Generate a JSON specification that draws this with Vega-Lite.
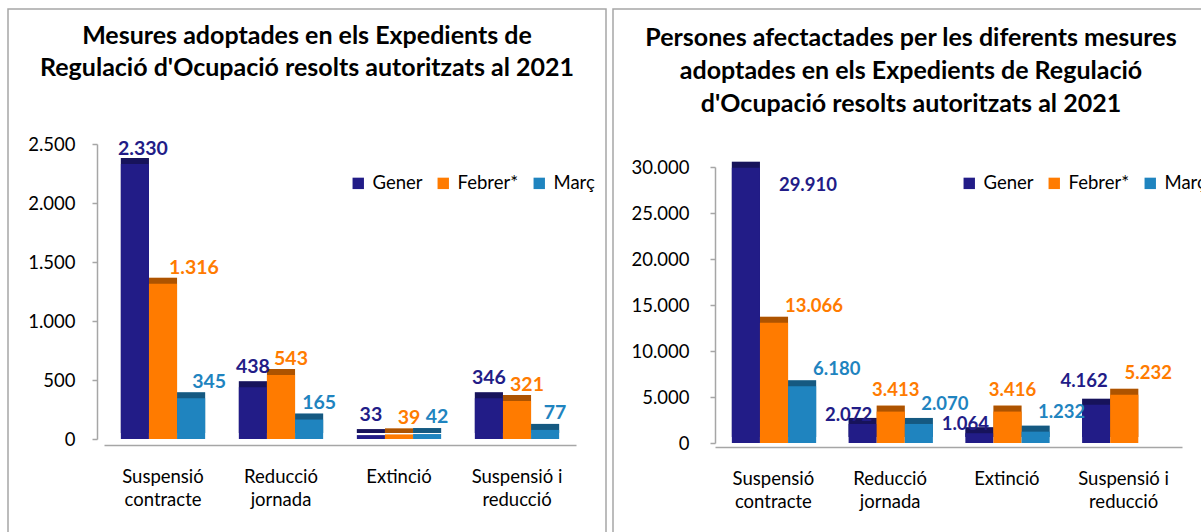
{
  "$schema": "https://vega.github.io/schema/vega-lite/v6.json",
  "padding": {"left": 7, "top": 8, "right": 0, "bottom": 0},
  "spacing": 5,
  "background": "white",
  "resolve": {"scale": {"color": "independent"}, "legend": {"color": "independent"}},
  "config": {
    "locale": {"number": {"decimal": ",", "thousands": ".", "grouping": [3], "currency": ["", " €"]}},
    "font": "Lato",
    "axis": {"labelFont": "Lato", "labelFontSize": 18.5, "labelColor": "#000000", "domainColor": "#A6A6A6", "domainWidth": 1.5, "tickColor": "#A6A6A6", "tickWidth": 1.5, "grid": false, "title": null},
    "text": {"font": "Lato", "fontWeight": "bold", "baseline": "middle"}
  },
  "datasets": {
    "mesures": [
      {"cat": "Suspensió contracte", "serie": "Gener", "v": 2330},
      {"cat": "Suspensió contracte", "serie": "Febrer*", "v": 1316},
      {"cat": "Suspensió contracte", "serie": "Març", "v": 345},
      {"cat": "Reducció jornada", "serie": "Gener", "v": 438},
      {"cat": "Reducció jornada", "serie": "Febrer*", "v": 543},
      {"cat": "Reducció jornada", "serie": "Març", "v": 165},
      {"cat": "Extinció", "serie": "Gener", "v": 33},
      {"cat": "Extinció", "serie": "Febrer*", "v": 39},
      {"cat": "Extinció", "serie": "Març", "v": 42},
      {"cat": "Suspensió i reducció", "serie": "Gener", "v": 346},
      {"cat": "Suspensió i reducció", "serie": "Febrer*", "v": 321},
      {"cat": "Suspensió i reducció", "serie": "Març", "v": 77}
    ],
    "persones": [
      {"cat": "Suspensió contracte", "serie": "Gener", "v": 29910},
      {"cat": "Suspensió contracte", "serie": "Febrer*", "v": 13066},
      {"cat": "Suspensió contracte", "serie": "Març", "v": 6180},
      {"cat": "Reducció jornada", "serie": "Gener", "v": 2072},
      {"cat": "Reducció jornada", "serie": "Febrer*", "v": 3413},
      {"cat": "Reducció jornada", "serie": "Març", "v": 2070},
      {"cat": "Extinció", "serie": "Gener", "v": 1064},
      {"cat": "Extinció", "serie": "Febrer*", "v": 3416},
      {"cat": "Extinció", "serie": "Març", "v": 1232},
      {"cat": "Suspensió i reducció", "serie": "Gener", "v": 4162},
      {"cat": "Suspensió i reducció", "serie": "Febrer*", "v": 5232}
    ]
  },
  "hconcat": [
    {
      "width": 598,
      "height": 526,
      "view": {"stroke": "#A6A6A6", "strokeWidth": 1.5},
      "title": {"text": ["Mesures adoptades en els Expedients de", "Regulació d'Ocupació resolts autoritzats al 2021"], "anchor": "middle", "frame": "group", "font": "Lato", "fontSize": 25, "fontWeight": "bold", "color": "#000000", "lineHeight": 32, "baseline": "top", "offset": -72},
      "data": {"name": "mesures"},
      "encoding": {
        "x": {"field": "cat", "type": "nominal", "sort": ["Suspensió contracte", "Reducció jornada", "Extinció", "Suspensió i reducció"], "scale": {"range": [96, 568], "paddingInner": 0, "paddingOuter": 0},
          "axis": {"orient": "bottom", "offset": -90, "labelAngle": 0, "ticks": false, "labelPadding": 22, "labelBaseline": "top", "labelLineHeight": 23,
            "labelExpr": "datum.value == 'Suspensió i reducció' ? ['Suspensió i', 'reducció'] : split(datum.value, ' ')"}},
        "xOffset": {"field": "serie", "type": "nominal", "sort": ["Gener", "Febrer*", "Març"], "scale": {"paddingInner": 0, "paddingOuter": 0.6}},
        "y": {"field": "v", "type": "quantitative", "scale": {"domain": [0, 2500], "range": [430, 135], "nice": false},
          "axis": {"orient": "left", "offset": -89, "values": [0, 500, 1000, 1500, 2000, 2500], "format": ",d", "tickSize": 5, "labelPadding": 17}},
        "text": {"field": "v", "type": "quantitative", "format": ",d"}
      },
      "layer": [
        {"mark": {"type": "bar", "xOffset": 9, "x2Offset": 9, "yOffset": -6, "y2Offset": -6},
          "encoding": {"text": null, "color": {"field": "serie", "type": "nominal", "sort": ["Gener", "Febrer*", "Març"],
            "scale": {"domain": ["Gener", "Febrer*", "Març"], "range": ["#221C87", "#FF7B00", "#1F84BF"]},
            "legend": {"orient": "none", "legendX": 341, "legendY": 165, "direction": "horizontal", "title": null, "symbolType": "square", "symbolSize": 130, "symbolStrokeWidth": 0, "labelFont": "Lato", "labelFontSize": 18.5, "labelColor": "#000000", "labelOffset": 5, "columnPadding": 11}}}},
        {"mark": {"type": "bar", "xOffset": 9, "x2Offset": 9, "yOffset": -6, "y2Offset": -6, "color": "#000000", "opacity": 0.32}, "encoding": {"text": null}},
        {"mark": {"type": "bar"}, "encoding": {"text": null, "color": {"field": "serie", "type": "nominal"}}},
        {"transform": [{"filter": "datum.cat == 'Suspensió contracte' && datum.serie == 'Gener'"}],
          "mark": {"type": "text", "fontSize": 19.5, "dy": -15, "dx": 8}, "encoding": {"color": {"field": "serie", "type": "nominal"}}},
        {"transform": [{"filter": "datum.cat == 'Suspensió contracte' && datum.serie == 'Febrer*'"}],
          "mark": {"type": "text", "fontSize": 19.5, "dy": -16, "dx": 31}, "encoding": {"color": {"field": "serie", "type": "nominal"}}},
        {"transform": [{"filter": "datum.cat == 'Suspensió contracte' && datum.serie == 'Març'"}],
          "mark": {"type": "text", "fontSize": 19.5, "dy": -16, "dx": 18}, "encoding": {"color": {"field": "serie", "type": "nominal"}}},
        {"transform": [{"filter": "datum.cat != 'Suspensió contracte' && datum.serie == 'Gener'"}],
          "mark": {"type": "text", "fontSize": 19.5, "dy": -20, "dx": 0}, "encoding": {"color": {"field": "serie", "type": "nominal"}}},
        {"transform": [{"filter": "datum.cat != 'Suspensió contracte' && datum.serie == 'Febrer*'"}],
          "mark": {"type": "text", "fontSize": 19.5, "dy": -16, "dx": 10}, "encoding": {"color": {"field": "serie", "type": "nominal"}}},
        {"transform": [{"filter": "datum.cat != 'Suspensió contracte' && datum.serie == 'Març'"}],
          "mark": {"type": "text", "fontSize": 19.5, "dy": -17, "dx": 10}, "encoding": {"color": {"field": "serie", "type": "nominal"}}}
      ]
    },
    {
      "width": 596,
      "height": 526,
      "view": {"stroke": "#A6A6A6", "strokeWidth": 1.5},
      "title": {"text": ["Persones afectactades per les diferents mesures", "adoptades en els Expedients de Regulació", "d'Ocupació resolts autoritzats al 2021"], "anchor": "middle", "frame": "group", "font": "Lato", "fontSize": 25, "fontWeight": "bold", "color": "#000000", "lineHeight": 33, "baseline": "top", "offset": -108},
      "data": {"name": "persones"},
      "encoding": {
        "x": {"field": "cat", "type": "nominal", "sort": ["Suspensió contracte", "Reducció jornada", "Extinció", "Suspensió i reducció"], "scale": {"range": [102, 569], "paddingInner": 0, "paddingOuter": 0},
          "axis": {"orient": "bottom", "offset": -88, "labelAngle": 0, "ticks": false, "labelPadding": 22, "labelBaseline": "top", "labelLineHeight": 23,
            "labelExpr": "datum.value == 'Suspensió i reducció' ? ['Suspensió i', 'reducció'] : split(datum.value, ' ')"}},
        "xOffset": {"field": "serie", "type": "nominal", "sort": ["Gener", "Febrer*", "Març"], "scale": {"paddingInner": 0, "paddingOuter": 0.6}},
        "y": {"field": "v", "type": "quantitative", "scale": {"domain": [0, 30000], "range": [434, 158], "nice": false},
          "axis": {"orient": "left", "offset": -102, "values": [0, 5000, 10000, 15000, 20000, 25000, 30000], "format": ",d", "tickSize": 5, "labelPadding": 21}},
        "text": {"field": "v", "type": "quantitative", "format": ",d"}
      },
      "layer": [
        {"mark": {"type": "bar", "xOffset": 9, "x2Offset": 9, "yOffset": -6, "y2Offset": -6},
          "encoding": {"text": null, "color": {"field": "serie", "type": "nominal", "sort": ["Gener", "Febrer*", "Març"],
            "scale": {"domain": ["Gener", "Febrer*", "Març"], "range": ["#221C87", "#FF7B00", "#1F84BF"]},
            "legend": {"orient": "none", "legendX": 347, "legendY": 165, "direction": "horizontal", "title": null, "symbolType": "square", "symbolSize": 130, "symbolStrokeWidth": 0, "labelFont": "Lato", "labelFontSize": 18.5, "labelColor": "#000000", "labelOffset": 5, "columnPadding": 11}}}},
        {"mark": {"type": "bar", "xOffset": 9, "x2Offset": 9, "yOffset": -6, "y2Offset": -6, "color": "#000000", "opacity": 0.32}, "encoding": {"text": null}},
        {"mark": {"type": "bar"}, "encoding": {"text": null, "color": {"field": "serie", "type": "nominal"}}},
        {"transform": [{"filter": "datum.cat == 'Suspensió contracte' && datum.serie == 'Gener'"}],
          "mark": {"type": "text", "fontSize": 18.5, "align": "left", "dy": 17, "dx": 33}, "encoding": {"color": {"field": "serie", "type": "nominal"}}},
        {"transform": [{"filter": "datum.cat == 'Suspensió contracte' && datum.serie != 'Gener'"}],
          "mark": {"type": "text", "fontSize": 18.5, "align": "left", "dy": -17, "dx": 11}, "encoding": {"color": {"field": "serie", "type": "nominal"}}},
        {"transform": [{"filter": "(datum.cat == 'Reducció jornada' || datum.cat == 'Extinció') && datum.serie == 'Gener'"}],
          "mark": {"type": "text", "fontSize": 18.5, "dy": -9, "dx": -14}, "encoding": {"color": {"field": "serie", "type": "nominal"}}},
        {"transform": [{"filter": "(datum.cat == 'Reducció jornada' || datum.cat == 'Extinció') && datum.serie == 'Febrer*'"}],
          "mark": {"type": "text", "fontSize": 18.5, "dy": -22, "dx": 5}, "encoding": {"color": {"field": "serie", "type": "nominal"}}},
        {"transform": [{"filter": "(datum.cat == 'Reducció jornada' || datum.cat == 'Extinció') && datum.serie == 'Març'"}],
          "mark": {"type": "text", "fontSize": 18.5, "dy": -20, "dx": 26}, "encoding": {"color": {"field": "serie", "type": "nominal"}}},
        {"transform": [{"filter": "datum.cat == 'Suspensió i reducció' && datum.serie == 'Gener'"}],
          "mark": {"type": "text", "fontSize": 18.5, "dy": -24, "dx": -12}, "encoding": {"color": {"field": "serie", "type": "nominal"}}},
        {"transform": [{"filter": "datum.cat == 'Suspensió i reducció' && datum.serie == 'Febrer*'"}],
          "mark": {"type": "text", "fontSize": 18.5, "dy": -22, "dx": 24}, "encoding": {"color": {"field": "serie", "type": "nominal"}}}
      ]
    }
  ]
}
